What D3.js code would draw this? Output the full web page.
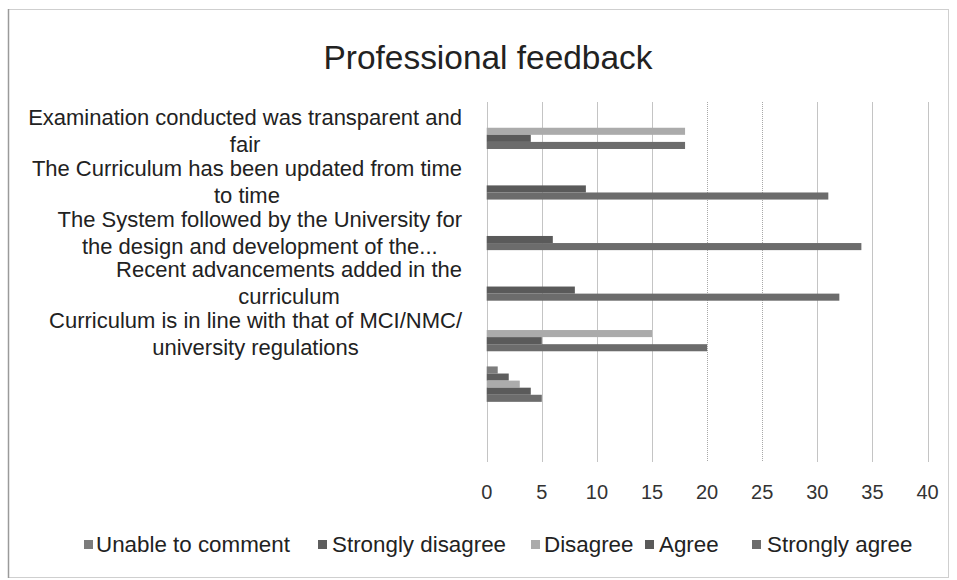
<!DOCTYPE html>
<html>
<head>
<meta charset="utf-8">
<script src="https://cdn.jsdelivr.net/npm/d3@7"></script>
<style>
  html, body { margin: 0; padding: 0; background: #fff; }
  svg { display: block; }
</style>
</head>
<body>
<svg id="chart" width="957" height="580"></svg>
<script>
// ---- data ----
const categories = [
  "Examination conducted was transparent and fair",
  "The Curriculum has been updated from time to time",
  "The System followed by the University for the design and development of the...",
  "Recent advancements added in the curriculum",
  "Curriculum is in line with that of MCI/NMC/ university regulations",
  "",
  ""
];
const categoryLines = [
  ["Examination conducted was transparent and", "fair"],
  ["The Curriculum has been updated from time", "to time"],
  ["The System followed by the University for", "the design and development of the..."],
  ["Recent advancements added in the", "curriculum"],
  ["Curriculum is in line with that of MCI/NMC/", "university regulations"],
  [],
  []
];
const seriesNames = ["Unable to comment", "Strongly disagree", "Disagree", "Agree", "Strongly agree"];
const unableToComment  = [0, 0, 0, 0, 0, 1, 0];
const stronglyDisagree = [0, 0, 0, 0, 0, 2, 0];
const disagree         = [18, 0, 0, 0, 15, 3, 0];
const agree            = [4, 9, 6, 8, 5, 4, 0];
const stronglyAgree    = [18, 31, 34, 32, 20, 5, 0];
const xTicks = [0, 5, 10, 15, 20, 25, 30, 35, 40];
const title = "Professional feedback";

const seriesValues = [unableToComment, stronglyDisagree, disagree, agree, stronglyAgree];
const seriesColors = ["#7c7c7c", "#5e5e5e", "#ababab", "#5a5a5a", "#6c6c6c"];

const FONT = "'Liberation Sans', Arial, sans-serif";

const svg = d3.select("#chart");

// font size fitting helper (match the reference's text widths)
function fitSize(str, targetW) {
  const t = svg.append("text").attr("font-family", FONT).attr("font-size", 20).text(str);
  const w = t.node().getComputedTextLength();
  t.remove();
  return 20 * targetW / w;
}
const labelSize = fitSize("Examination conducted was transparent and", 434);
const titleSize = fitSize(title, 329);
const legendSize = fitSize("Unable to comment", 194);
const tickSize = Math.min(labelSize, 20);

// border
svg.append("rect").attr("x", 8.5).attr("y", 9.5).attr("width", 940).attr("height", 568)
  .attr("fill", "none").attr("stroke", "#cfcfcf").attr("stroke-width", 1);
svg.append("line").attr("x1", 8.5).attr("x2", 8.5).attr("y1", 9).attr("y2", 578)
  .attr("stroke", "#9a9a9a").attr("stroke-width", 1.5);

// scales
const x = d3.scaleLinear().domain([0, 40]).range([486.7, 927.5]);
const y = d3.scaleBand().domain(d3.range(categories.length)).range([106, 460])
  .paddingInner(0.3).paddingOuter(0.15);
const ySub = d3.scaleBand().domain(d3.range(seriesNames.length)).range([0, y.bandwidth()]);

// gridlines
svg.append("g").selectAll("line").data(xTicks).join("line")
  .attr("x1", d => Math.round(x(d)) + 0.5).attr("x2", d => Math.round(x(d)) + 0.5)
  .attr("y1", 102).attr("y2", 462)
  .attr("stroke", d => (d === 20 || d === 25) ? "#a8a8a8" : "#c4c4c4")
  .attr("stroke-width", 1)
  .attr("stroke-dasharray", d => (d === 20 || d === 25) ? "1,1" : null);

// bars
const groups = svg.append("g").selectAll("g").data(categories.map((c, i) => i)).join("g")
  .attr("transform", i => `translate(0,${y(i)})`);
groups.selectAll("rect").data(i => seriesValues.map((s, k) => ({k, v: s[i]})).filter(d => d.v > 0))
  .join("rect")
  .attr("x", x(0))
  .attr("y", d => ySub(d.k))
  .attr("width", d => x(d.v) - x(0))
  .attr("height", ySub.bandwidth())
  .attr("fill", d => seriesColors[d.k]);

// category labels
const lineH = 27;
const labelG = svg.append("g").attr("font-family", FONT).attr("font-size", labelSize).attr("fill", "#222");
categoryLines.forEach((lines, i) => {
  if (!lines.length) return;
  const cy = y(i) + y.bandwidth() / 2;
  const tmp = lines.map(l => {
    const t = labelG.append("text").text(l);
    const w = t.node().getComputedTextLength();
    return {t, w};
  });
  const maxW = d3.max(tmp, d => d.w);
  const cx = 462 - maxW / 2;
  tmp.forEach((d, j) => {
    d.t.attr("x", cx).attr("text-anchor", "middle")
      .attr("y", cy + (j - (lines.length - 1) / 2) * lineH)
      .attr("dy", "0.35em");
  });
});

// x tick labels
svg.append("g").attr("font-family", FONT).attr("font-size", tickSize).attr("fill", "#333")
  .selectAll("text").data(xTicks).join("text")
  .attr("x", d => x(d)).attr("y", 492).attr("dy", "0.35em").attr("text-anchor", "middle")
  .text(d => d);

// title
svg.append("text").attr("x", 488).attr("y", 57).attr("dy", "0.35em").attr("text-anchor", "middle")
  .attr("font-family", FONT).attr("font-size", titleSize).attr("fill", "#222").text(title);

// legend
const legendX = [84, 318, 531, 645, 752];
const legendTextX = [96, 332, 544, 659, 767];
const lg = svg.append("g").attr("font-family", FONT).attr("font-size", legendSize).attr("fill", "#222");
seriesNames.forEach((n, k) => {
  lg.append("rect").attr("x", legendX[k]).attr("y", 540).attr("width", 9).attr("height", 9)
    .attr("fill", seriesColors[k]);
  lg.append("text").attr("x", legendTextX[k]).attr("y", 544.5).attr("dy", "0.35em").text(n);
});
</script>
</body>
</html>
